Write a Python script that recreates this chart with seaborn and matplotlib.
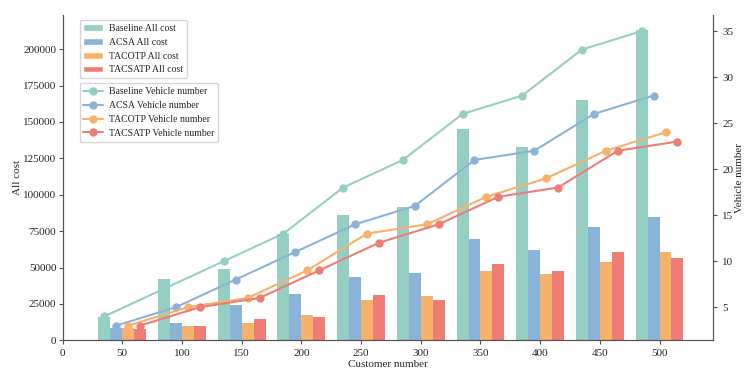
import numpy as np
import pandas as pd
import matplotlib
matplotlib.use("Agg")
import matplotlib.pyplot as plt
import seaborn as sns
from matplotlib.patches import Patch

customers = [50, 100, 150, 200, 250, 300, 350, 400, 450, 500]
methods = ["Baseline", "ACSA", "TACOTP", "TACSATP"]

cost_baseline = [16000, 41900, 48800, 73300, 85800, 91500, 144900, 133000, 164800, 212900]
cost_acsa = [8500, 11900, 24000, 31600, 43300, 46500, 69800, 62000, 77600, 84500]
cost_tacotp = [8300, 9800, 11700, 17200, 27500, 30700, 47600, 45300, 53600, 60900]
cost_tacsatp = [7800, 9900, 14400, 16000, 31400, 27900, 52700, 47900, 60400, 56500]

veh_baseline = [4, 7, 10, 13, 18, 21, 26, 28, 33, 35]
veh_acsa = [3, 5, 8, 11, 14, 16, 21, 22, 26, 28]
veh_tacotp = [3, 5, 6, 9, 13, 14, 17, 19, 22, 24]
veh_tacsatp = [3, 5, 6, 9, 12, 14, 17, 18, 22, 23]

colors = ["#95CFC3", "#8BB3D8", "#F6B26A", "#EE7D76"]

costs = [cost_baseline, cost_acsa, cost_tacotp, cost_tacsatp]
vehicles = [veh_baseline, veh_acsa, veh_tacotp, veh_tacsatp]

rows = []
for m, c, v in zip(methods, costs, vehicles):
    for x, ci, vi in zip(customers, c, v):
        rows.append({"Customer number": x, "method": m, "cost": ci, "vehicles": vi})
df = pd.DataFrame(rows)

sns.set_style("ticks")
plt.rcParams["font.family"] = ["Liberation Serif", "DejaVu Serif"]
plt.rcParams["font.size"] = 8

fig, ax = plt.subplots(figsize=(7.54, 3.76), dpi=100)
sns.barplot(data=df, x="Customer number", y="cost", hue="method", hue_order=methods,
            palette=colors, native_scale=True, width=0.8, saturation=1,
            ax=ax, legend=False, linewidth=0)

ax2 = ax.twinx()
# line markers sit at the bar centres
offsets = [-15, -5, 5, 15]
for m, col, off in zip(methods, colors, offsets):
    sub = df[df["method"] == m].copy()
    sub["xpos"] = sub["Customer number"] + off
    sns.lineplot(data=sub, x="xpos", y="vehicles", color=col, marker="o",
                 markersize=6, markeredgewidth=0, linewidth=1.5, ax=ax2,
                 label=f"{m} Vehicle number")

ax.set_xlim(0, 545)
ax.set_xticks([0] + customers)
ax.set_xticklabels([str(t) for t in [0] + customers])
ax.set_ylim(0, 223500)
ax.set_yticks(np.arange(0, 200001, 25000))
ax2.set_ylim(1.4, 36.75)
ax2.set_yticks([5, 10, 15, 20, 25, 30, 35])

ax.set_xlabel("Customer number", fontsize=8, labelpad=1)
ax.set_ylabel("All cost", fontsize=8, labelpad=0.5)
ax2.set_ylabel("Vehicle number", fontsize=8, labelpad=1)

for a in (ax, ax2):
    a.spines["top"].set_visible(False)
    for s in a.spines.values():
        s.set_color("#555555")
    a.tick_params(labelsize=8, length=3, color="#555555")
ax.tick_params(axis="y", pad=1.5)

bar_handles = [Patch(facecolor=c, label=f"{m} All cost") for m, c in zip(methods, colors)]
ax.legend(handles=bar_handles, loc="upper left", bbox_to_anchor=(0.026, 0.985),
          borderaxespad=0, fontsize=7, frameon=True, handletextpad=0.6)
ax2.legend(loc="upper left", bbox_to_anchor=(0.026, 0.79), borderaxespad=0,
           fontsize=7, frameon=True, handletextpad=0.6)

fig.subplots_adjust(left=0.083, right=0.946, top=0.96, bottom=0.095)
fig.savefig("out.png", dpi=100)
